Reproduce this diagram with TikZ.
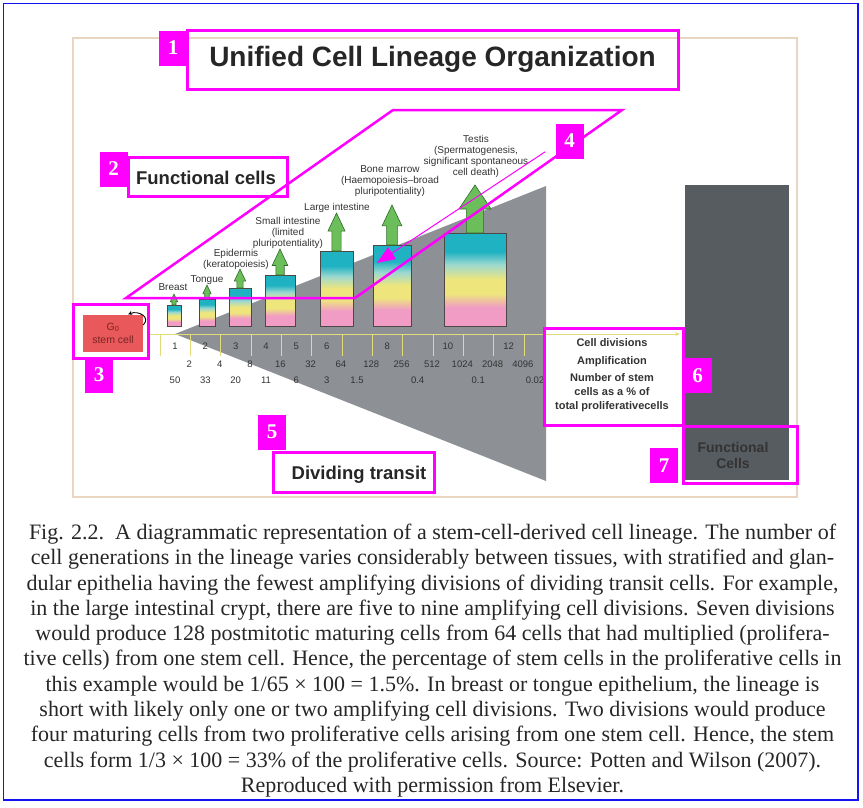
\documentclass[tikz,border=0pt]{standalone}
\usepackage{fontspec}
\setmainfont{Liberation Serif}
\setsansfont{Liberation Sans}
\usepackage{tikz}
\usetikzlibrary{arrows.meta}

\definecolor{hlmag}{HTML}{FF00FF}
\definecolor{edgeblue}{HTML}{1414F0}
\definecolor{framebrown}{HTML}{EAD6C0}
\definecolor{wedgegray}{HTML}{8D9196}
\definecolor{darkbar}{HTML}{575C61}
\definecolor{stemred}{HTML}{E9585A}
\definecolor{stemtext}{HTML}{7A2424}
\definecolor{axisyellow}{HTML}{E2DC78}
\definecolor{cellpink}{HTML}{F09CC4}
\definecolor{cellyellow}{HTML}{EEE67C}
\definecolor{celllight}{HTML}{9ED9CF}
\definecolor{cellteal}{HTML}{1EB2C3}
\definecolor{barline}{HTML}{4D4747}
\definecolor{arrowfill}{HTML}{6BBE5A}
\definecolor{arrowline}{HTML}{2F6B2A}

\pgfdeclareverticalshading{cellgrad}{100bp}{color(0bp)=(cellpink);
  color(35bp)=(cellpink); color(42.5bp)=(cellyellow); color(50bp)=(cellyellow);
  color(58bp)=(celllight); color(65bp)=(cellteal); color(100bp)=(cellteal)}

% one maturing compartment: x1, x2, top, arrow tip
\newcommand{\cellbar}[4]{%
  \pgfmathsetmacro{\cbw}{#2-#1}
  \pgfmathsetmacro{\cbm}{(#1+#2)/2}
  \pgfmathsetmacro{\cbs}{0.14*\cbw}
  \pgfmathsetmacro{\cbh}{0.26*\cbw}
  \pgfmathsetmacro{\cbk}{#4+min(0.55*\cbw,24)}
  \shade[shading=cellgrad, draw=barline, line width=0.8pt] (#1,326) rectangle (#2,#3);
  \draw[fill=arrowfill, draw=arrowline, line width=0.6pt]
    (\cbm-\cbs,#3) -- (\cbm-\cbs,\cbk) -- (\cbm-\cbh,\cbk) -- (\cbm,#4)
    -- (\cbm+\cbh,\cbk) -- (\cbm+\cbs,\cbk) -- (\cbm+\cbs,#3) -- cycle;
}

\begin{document}
\begin{tikzpicture}[
  x=1pt, y=-1pt,
  hlbox/.style={draw=hlmag, line width=3pt, inner sep=0pt},
  hlline/.style={draw=hlmag, line width=2.5pt, line join=miter},
  numlab/.style={fill=hlmag, text=white, inner sep=0pt,
                 minimum width=28pt, minimum height=35pt,
                 font=\rmfamily\bfseries\fontsize{21}{21}\selectfont},
  celllbl/.style={align=center, inner sep=0pt, text=black!80,
                  font=\sffamily\fontsize{10}{11}\selectfont},
  numtxt/.style={inner sep=0pt, text=black!80,
                 font=\sffamily\fontsize{9.5}{10}\selectfont},
  keytxt/.style={align=center, inner sep=0pt, text=black!80,
                 font=\sffamily\bfseries\fontsize{11}{14}\selectfont},
  bigtxt/.style={inner sep=0pt, text=black!85,
                 font=\sffamily\bfseries\fontsize{18.5}{20}\selectfont},
  axisline/.style={draw=axisyellow, line width=0.9pt}
]
\useasboundingbox (0,0) rectangle (863,807);
\draw[edgeblue, line width=1.5pt] (3.5,3.5) rectangle (858,800);
\draw[framebrown, line width=1.2pt] (73,38) rectangle (797,497);

% dividing transit wedge and functional compartment
\fill[wedgegray] (175,334) -- (546,186) -- (546,481) -- cycle;
\fill[darkbar] (685,185) rectangle (789,480);

% cell division axis
\node[hlbox, draw=none, fill=white, minimum width=139pt, minimum height=97pt]
  (keyfill) at (613.5,376.5) {};
\draw[axisline, -{Stealth[length=5pt, width=4pt]}] (150,334) -- (680,334);
\foreach \k in {0,...,12}
  \draw[axisline] ({160+30.33*\k},334) -- ++(0,22);

% maturing compartments
\cellbar{167}{181}{305}{294}
\cellbar{199}{215}{299}{285}
\cellbar{229}{251}{288}{269}
\cellbar{265}{295}{275}{249}
\cellbar{320}{353}{251}{213}
\cellbar{373}{411}{245}{205}
\cellbar{444}{506}{233}{185}

\node[celllbl] (breast) at (173,287) {Breast};
\node[celllbl] (tongue) at (207,280) {Tongue};
\node[celllbl] (epidermis) at (236,259) {Epidermis\\(keratopoiesis)};
\node[celllbl] (smallint) at (288,233) {Small intestine\\(limited\\pluripotentiality)};
\node[celllbl] (largeint) at (337,208) {Large intestine};
\node[celllbl] (marrow) at (390,181) {Bone marrow\\(Haemopoiesis--broad\\pluripotentiality)};
\node[celllbl] (testis) at (476,156) {Testis\\(Spermatogenesis,\\significant spontaneous\\cell death)};

% numbers under the axis
\foreach \c/\v in {1/1,2/2,3/3,4/4,5/5,6/6,8/8,10/10,12/12}
  \node[numtxt] (div\c) at ({175+30.33*(\c-1)},346) {\v};
\foreach \k/\v in {1/2,2/4,3/8,4/16,5/32,6/64,7/128,8/256,9/512,10/1024,11/2048,12/4096}
  \node[numtxt] (amp\k) at ({159+30.33*\k},364) {\v};
\foreach \c/\v in {1/50,2/33,3/20,4/11,5/6,6/3,7/1.5,9/0.4,11/0.1}
  \node[numtxt] (pct\c) at ({175+30.33*(\c-1)},380) {\v};
\node[numtxt] (pct13) at (535,380) {0.02};
\fill[white] (545.5,372) rectangle (556,388);

% key
\node[keytxt] (keydiv) at (612,343) {Cell divisions};
\node[keytxt] (keyamp) at (612,362) {Amplification};
\node[keytxt] (keypct) at (612,393) {Number of stem\\cells as a \% of\\total proliferativecells};

% stem cell
\node[fill=stemred, minimum width=60pt, minimum height=37pt, inner sep=0pt,
      align=center, text=stemtext, font=\sffamily\fontsize{10.5}{13}\selectfont]
  (stem) at (113,333) {G\textsubscript{0}\\stem cell};
\draw[black, line width=0.9pt, -{Stealth[length=4pt, width=4pt]}]
  ([yshift=8pt]stem.east) .. controls ++(8,-8) and ++(10,-4) .. ([xshift=-15pt]stem.north east);

\node[font=\sffamily\bfseries\fontsize{14}{16}\selectfont, align=center,
      text=black!80, inner sep=0pt] (functxt) at (733,455) {Functional\\Cells};

% highlighted boxes
\node[hlbox, minimum width=491pt, minimum height=59pt, text=black!85,
      font=\sffamily\bfseries\fontsize{28}{30}\selectfont]
  (title) at (432.5,59.5) {Unified Cell Lineage Organization};
\node[hlbox, minimum width=159pt, minimum height=39pt] (funcbox) at (207.5,176.5) {};
\node[bigtxt] (functional) at (206,178) {Functional cells};
\node[hlbox, minimum width=75pt, minimum height=54pt] (stembox) at (110.5,331) {};
\node[hlbox, minimum width=161pt, minimum height=40pt] (divbox) at (353.5,472) {};
\node[bigtxt] (dividing) at (359,475) {Dividing transit};
\node[hlbox, minimum width=139pt, minimum height=97pt] (keybox) at (613.5,376.5) {};
\node[hlbox, minimum width=114pt, minimum height=57pt] (funcbar) at (740,454.5) {};
\draw[hlline] (126,298) -- (355,298) -- (622,110) -- (393,110) -- cycle;

\node[numlab] (lab1) at (173,48) {1};
\node[numlab] (lab2) at (113.5,169) {2};
\node[numlab] (lab3) at (99,375) {3};
\node[numlab] (lab4) at (569.5,141) {4};
\node[numlab] (lab5) at (272,432) {5};
\node[numlab] (lab6) at (697.5,375.5) {6};
\node[numlab] (lab7) at (664,465.5) {7};

\coordinate (marrowcell) at (377,263);
\draw[hlmag, line width=1pt, -{Triangle[length=18pt, width=14pt]}]
  ([xshift=-10pt, yshift=7pt]lab4.south west) -- (marrowcell);

% caption
\node[align=center, inner sep=0pt, text=black!85,
      font=\rmfamily\fontsize{22}{25.3}\selectfont] (caption) at (432.5,660.5)
  {Fig. 2.2.\ \ A diagrammatic representation of a stem-cell-derived cell lineage. The number of\\
   cell generations in the lineage varies considerably between tissues, with stratified and glan-\\
   dular epithelia having the fewest amplifying divisions of dividing transit cells. For example,\\
   in the large intestinal crypt, there are five to nine amplifying cell divisions. Seven divisions\\
   would produce 128 postmitotic maturing cells from 64 cells that had multiplied (prolifera-\\
   tive cells) from one stem cell. Hence, the percentage of stem cells in the proliferative cells in\\
   this example would be 1/65 × 100 = 1.5\%. In breast or tongue epithelium, the lineage is\\
   short with likely only one or two amplifying cell divisions. Two divisions would produce\\
   four maturing cells from two proliferative cells arising from one stem cell. Hence, the stem\\
   cells form 1/3 × 100 = 33\% of the proliferative cells. Source: Potten and Wilson (2007).\\
   Reproduced with permission from Elsevier.};
\end{tikzpicture}
\end{document}
